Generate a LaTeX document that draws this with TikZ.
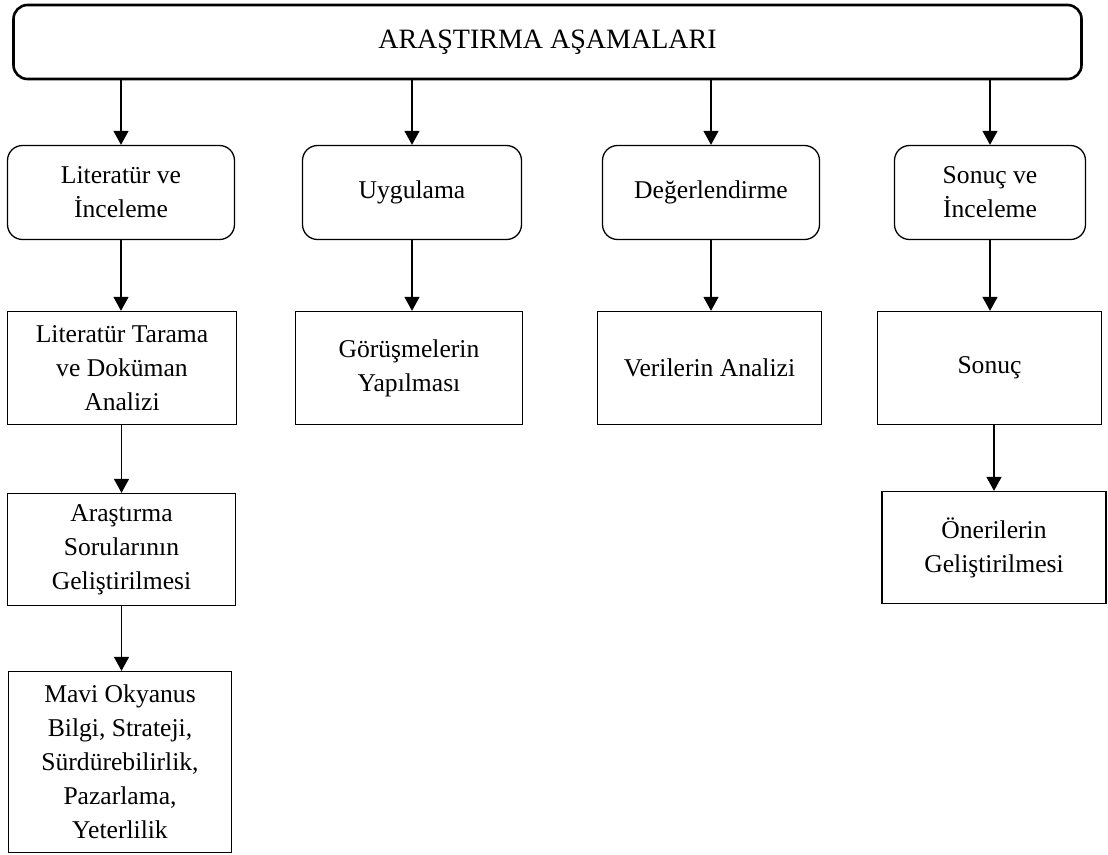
\documentclass[tikz,border=0pt]{standalone}
\usepackage{fontspec}
\setmainfont{Liberation Serif}
\usetikzlibrary{arrows.meta,positioning}

\begin{document}
\begin{tikzpicture}[x=1pt,y=-1pt,
  every node/.style={font=\fontsize{25.6}{34}\selectfont, align=center, inner sep=0pt},
  topbox/.style={draw, line width=2.6pt, rounded corners=14pt, minimum width=1068pt, minimum height=74pt, font=\fontsize{28}{34}\selectfont},
  phase/.style={draw, line width=1.3pt, rounded corners=15pt, minimum height=94pt},
  stage/.style={draw, line width=1.3pt},
  arr/.style={line width=1.3pt, -{Triangle[length=14pt,width=15pt]}}]
  \useasboundingbox (0,0) rectangle (1108,854);

  % Title
  \node[topbox] (title) at (547.5,42) {ARAŞTIRMA AŞAMALARI};

  % Phases
  \node[phase, minimum width=227pt] (lit) at (121,192.5) {Literatür ve\\İnceleme};
  \node[phase, minimum width=219pt] (uyg) at (412,192.5) {Uygulama};
  \node[phase, minimum width=217pt] (deg) at (711,192.5) {Değerlendirme};
  \node[phase, minimum width=191pt] (son) at (990,192.5) {Sonuç ve\\İnceleme};

  % Steps
  \node[stage, minimum width=229pt, minimum height=113pt] (tar) at (122,368) {Literatür Tarama\\ve Doküman\\Analizi};
  \node[stage, minimum width=227pt, minimum height=113pt] (gor) at (409,368) {Görüşmelerin\\Yapılması};
  \node[stage, minimum width=224pt, minimum height=113pt] (ver) at (709.5,368) {Verilerin Analizi};
  \node[stage, minimum width=224pt, minimum height=113pt] (snc) at (989.5,368) {Sonuç};
  \node[stage, minimum width=228pt, minimum height=112pt] (sor) at (121.5,549.5) {Araştırma\\Sorularının\\Geliştirilmesi};
  \node[stage, minimum width=224pt, minimum height=112pt] (one) at (994,547.5) {Önerilerin\\Geliştirilmesi};
  \node[stage, minimum width=223pt, minimum height=181pt] (mav) at (120,762) {Mavi Okyanus\\Bilgi, Strateji,\\Sürdürebilirlik,\\Pazarlama,\\Yeterlilik};

  % Arrows
  \foreach \p in {lit,uyg,deg,son}
    \draw[arr] (\p.north |- title.south) -- (\p.north);
  \draw[arr] (lit.south) -- (lit.south |- tar.north);
  \draw[arr] (uyg.south) -- (uyg.south |- gor.north);
  \draw[arr] (deg.south) -- (deg.south |- ver.north);
  \draw[arr] (son.south) -- (son.south |- snc.north);
  \draw[arr] (sor.north |- tar.south) -- (sor.north);
  \draw[arr] (one.north |- snc.south) -- (one.north);
  \draw[arr] (sor.south) -- (sor.south |- mav.north);
\end{tikzpicture}
\end{document}
